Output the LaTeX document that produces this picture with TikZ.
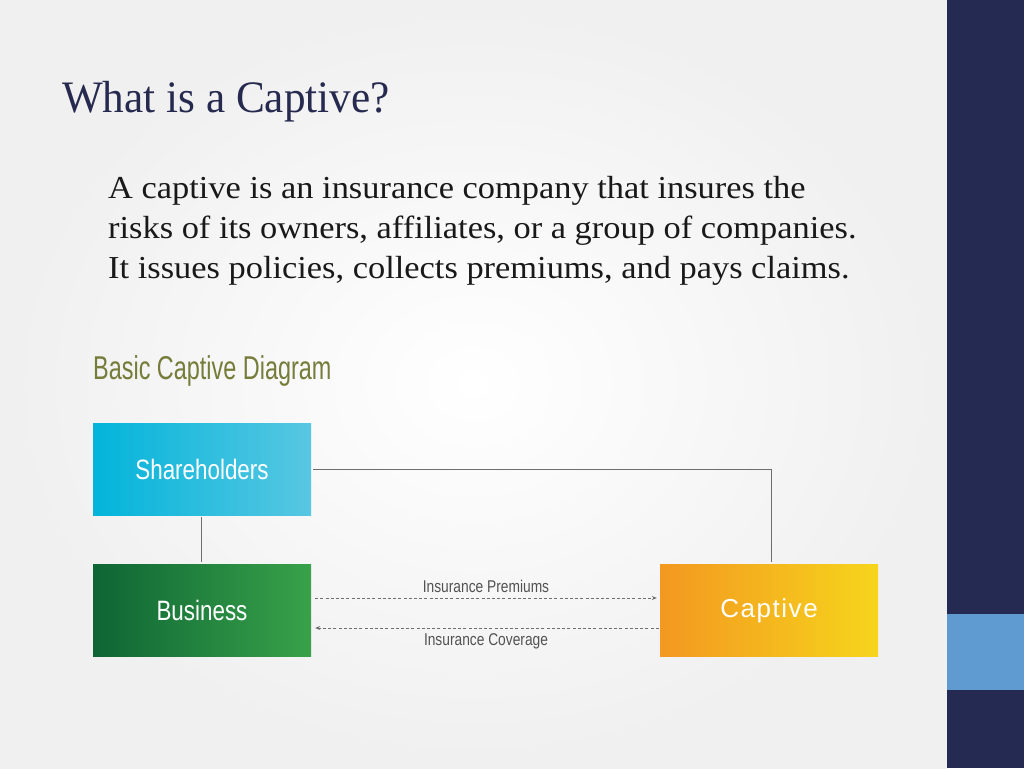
\documentclass[tikz,border=0pt]{standalone}
\usepackage{fontspec}
\setmainfont{Liberation Serif}
\newfontfamily\bodyfont[FakeStretch=1.075]{Liberation Serif}
\newfontfamily\titlefont[FakeStretch=0.96]{Liberation Serif}
\newfontfamily\diag[FakeStretch=0.80]{Liberation Sans}
\newfontfamily\headfont[FakeStretch=0.71]{Liberation Sans}
\newfontfamily\lblfont[FakeStretch=0.81]{Liberation Sans}
\newfontfamily\diagsp[LetterSpace=6]{Liberation Sans}
\usetikzlibrary{arrows.meta}
\definecolor{navy}{HTML}{252A52}
\definecolor{sideblue}{HTML}{5F9BD0}
\definecolor{titlecol}{HTML}{262A4F}
\definecolor{olive}{HTML}{767C3A}
\definecolor{cyanL}{HTML}{02B4DA}
\definecolor{cyanR}{HTML}{58C7E2}
\definecolor{greenL}{HTML}{0E6534}
\definecolor{greenR}{HTML}{38A24A}
\definecolor{orangeL}{HTML}{F39820}
\definecolor{orangeR}{HTML}{F6D51C}
\definecolor{linecol}{HTML}{6E6E6E}
\tikzset{
  box/.style={minimum width=218pt, minimum height=92pt, inner sep=0pt, text=white},
  conn/.style={draw=linecol, line width=0.8pt},
  dasharrow/.style={draw=linecol, line width=0.8pt, dash pattern=on 3pt off 2.2pt, -{Stealth[length=5pt,width=4pt]}},
  body/.style={anchor=base west, inner sep=0pt, text=black!90, font=\bodyfont\fontsize{32}{40}\selectfont},
  lbl/.style={inner sep=0pt, text=black!68, font=\lblfont\fontsize{17}{19}\selectfont}
}
\begin{document}
\begin{tikzpicture}[x=1pt,y=-1pt]
\useasboundingbox (0,0) rectangle (1024,768);
% background
\shade[inner color=white, outer color=black!6] (0,0) rectangle (947,768);
\fill[navy] (947,0) rectangle (1024,768);
\fill[sideblue] (947,614) rectangle (1024,690);
% title
\node[anchor=base west, inner sep=0pt, text=titlecol, font=\titlefont\fontsize{45}{50}\selectfont] (title) at (62,112) {What is a Captive?};
% body
\node[body] (l1) at (108,198) {A captive is an insurance company that insures the};
\node[body] (l2) at (108,238) {risks of its owners, affiliates, or a group of companies.};
\node[body] (l3) at (108,278) {It issues policies, collects premiums, and pays claims.};
% diagram heading
\node[anchor=base west, inner sep=0pt, text=olive, font=\headfont\fontsize{33}{36}\selectfont] (head) at (93,379) {Basic Captive Diagram};
% boxes
\node[box, left color=cyanL, right color=cyanR, font=\diag\fontsize{28}{30}\selectfont] (sh) at (202,469) {Shareholders};
\node[box, left color=greenL, right color=greenR, font=\diag\fontsize{28}{30}\selectfont] (bus) at (202,610.5) {Business};
\node[box, left color=orangeL, right color=orangeR, font=\diagsp\fontsize{26}{28}\selectfont] (cap) at (769,610.5) {Captive};
% connectors
\draw[conn, shorten <=2pt, shorten >=2pt] (sh.east) -| ([xshift=2pt]cap.north);
\draw[conn, shorten <=2pt, shorten >=2pt] ([xshift=-1pt]sh.south) -- ([xshift=-1pt]bus.north);
\draw[dasharrow, shorten <=4pt, shorten >=3pt] ([yshift=12.5pt]bus.east) -- ([yshift=12.5pt]cap.west);
\draw[dasharrow, shorten <=1pt, shorten >=4pt] ([yshift=-17.5pt]cap.west) -- ([yshift=-17.5pt]bus.east);
% labels
\node[lbl] (prem) at (486,586) {Insurance Premiums};
\node[lbl] (cov) at (486,641) {Insurance Coverage};
\end{tikzpicture}
\end{document}
